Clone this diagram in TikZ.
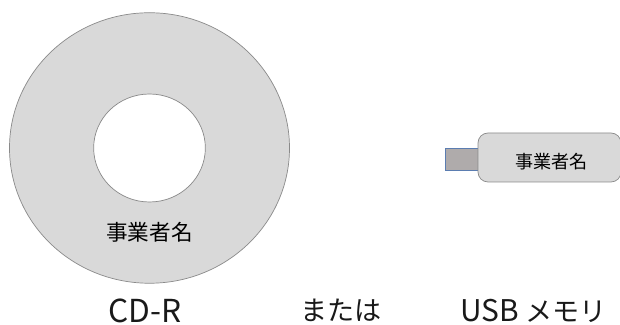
\documentclass[tikz,border=0pt]{standalone}
\usepackage{fontspec}
\setmainfont{Noto Sans CJK JP}
\usepackage{tikz}
\usetikzlibrary{positioning}

\definecolor{discgray}{HTML}{D9D9D9}
\definecolor{edgegray}{HTML}{8A8A8A}
\definecolor{plugfill}{HTML}{AFABAB}
\definecolor{plugedge}{HTML}{5B7DB1}

\newcommand{\latinbig}[1]{{\fontsize{17}{20}\selectfont #1}}

\begin{document}
\begin{tikzpicture}[
    outline/.style={draw=edgegray, line width=0.4pt},
    discname/.style={font=\fontsize{12.3}{14}\selectfont, inner sep=0pt},
    usbname/.style={font=\fontsize{10.3}{12}\selectfont, inner sep=0pt},
    caption/.style={font=\fontsize{15.4}{18}\selectfont, inner sep=0pt, text=black!90}
]

    % Page frame
    \useasboundingbox (0, 0) rectangle (12.4, 6.5);

    % Disc
    \fill[discgray, even odd rule] (2.99, 3.54) ellipse (2.8 and 2.705) (2.99, 3.54) ellipse (1.117 and 1.08);
    \draw[outline] (2.99, 3.54) ellipse (2.8 and 2.705);
    \draw[outline] (2.99, 3.54) ellipse (1.117 and 1.08);
    \node[discname] (discname) at (2.99, 1.86) {事業者名};

    % USB stick
    \node[draw=plugedge, fill=plugfill, line width=0.4pt, minimum width=0.66cm, minimum height=0.44cm, inner sep=0pt] (plug) at (9.23, 3.32) {};
    \draw[outline, fill=discgray, rounded corners=0.2cm] (9.56, 2.86) rectangle (12.42, 3.84);
    \node[usbname] (usbname) at (11.03, 3.26) {事業者名};

    % Captions
    \node[caption, font=\fontsize{18}{21}\selectfont] (cdr) at (2.9, 0.29) {CD-R};
    \node[caption] (or) at (6.82, 0.29) {または};
    \node[caption] (usb) at (10.67, 0.29) {\latinbig{USB} メモリ};

\end{tikzpicture}
\end{document}
